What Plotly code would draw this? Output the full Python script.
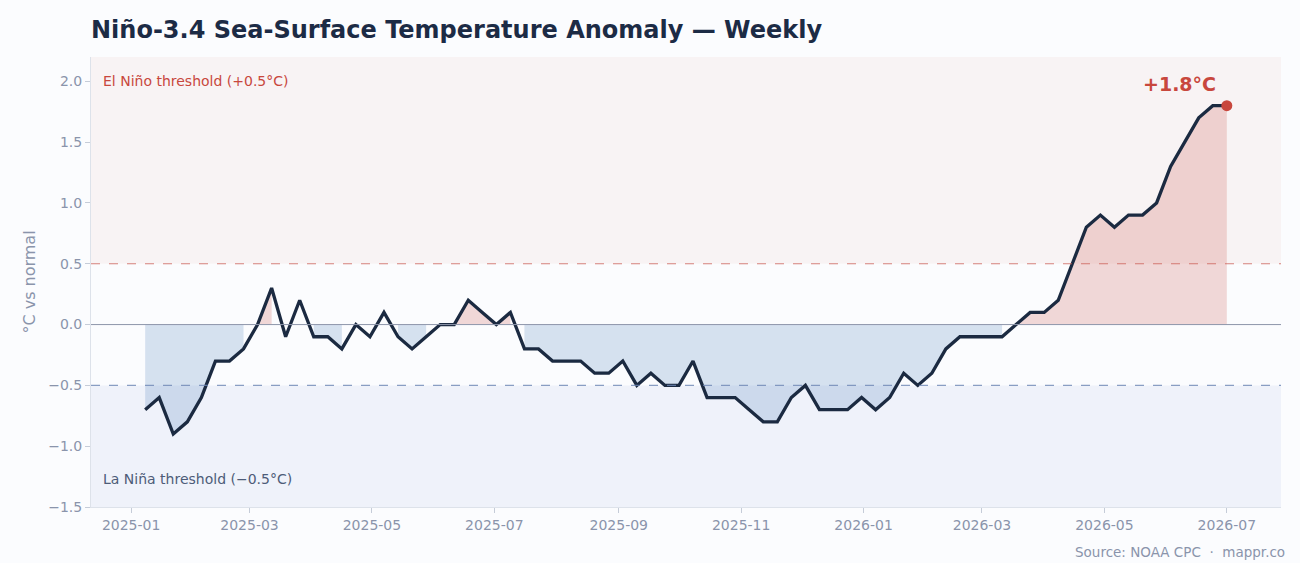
import plotly.graph_objects as go
import pandas as pd

# ---- data ----
start_date = "2025-01-08"
n_weeks = 78
anomaly = [
    -0.7, -0.6, -0.9, -0.8, -0.6, -0.3, -0.3, -0.2, 0.0, 0.3,
    -0.1, 0.2, -0.1, -0.1, -0.2, 0.0, -0.1, 0.1, -0.1, -0.2,
    -0.1, 0.0, 0.0, 0.2, 0.1, 0.0, 0.1, -0.2, -0.2, -0.3,
    -0.3, -0.3, -0.4, -0.4, -0.3, -0.5, -0.4, -0.5, -0.5, -0.3,
    -0.6, -0.6, -0.6, -0.7, -0.8, -0.8, -0.6, -0.5, -0.7, -0.7,
    -0.7, -0.6, -0.7, -0.6, -0.4, -0.5, -0.4, -0.2, -0.1, -0.1,
    -0.1, -0.1, 0.0, 0.1, 0.1, 0.2, 0.5, 0.8, 0.9, 0.8,
    0.9, 0.9, 1.0, 1.3, 1.5, 1.7, 1.8, 1.8,
]
dates = list(pd.date_range(start_date, periods=n_weeks, freq="7D"))

el_nino = 0.5
la_nina = -0.5
y_ticks = [-1.5, -1.0, -0.5, 0.0, 0.5, 1.0, 1.5, 2.0]
y_tick_text = [("\u2212" if v < 0 else "") + f"{abs(v):.1f}" for v in y_ticks]
x_range = ["2024-12-12", "2026-07-28"]
y_range = [-1.5, 2.2]

# ---- colours ----
BG = "#fbfcfe"
NAVY = "#1b2a41"
RED = "#c8473d"
GREY = "#8a94ab"

fig = go.Figure()

# ---- fill segments ----
def runs(mask):
    out, cur = [], []
    for i, m in enumerate(mask):
        if m:
            cur.append(i)
        elif cur:
            out.append(cur)
            cur = []
    if cur:
        out.append(cur)
    return out

# blue: strictly negative runs
for r in runs([v < 0 for v in anomaly]):
    if len(r) < 2:
        continue
    fig.add_trace(go.Scatter(
        x=[dates[i] for i in r], y=[anomaly[i] for i in r],
        mode="lines", line=dict(width=0), fill="tozeroy",
        fillcolor="rgba(100,145,195,0.25)", hoverinfo="skip", showlegend=False))

# red: positive runs extended to neighbouring zero points
for r in runs([v >= 0 for v in anomaly]):
    pos = [i for i in r if anomaly[i] > 0]
    if not pos:
        continue
    a = max(r[0], pos[0] - 1)
    b = min(r[-1], pos[-1] + 1)
    idx = list(range(a, b + 1))
    if len(idx) < 2:
        continue
    fig.add_trace(go.Scatter(
        x=[dates[i] for i in idx], y=[anomaly[i] for i in idx],
        mode="lines", line=dict(width=0), fill="tozeroy",
        fillcolor="rgba(200,70,60,0.20)", hoverinfo="skip", showlegend=False))

# ---- main line ----
fig.add_trace(go.Scatter(
    x=dates, y=anomaly, mode="lines",
    line=dict(color=NAVY, width=3.3), showlegend=False))

# ---- end marker ----
fig.add_trace(go.Scatter(
    x=[dates[-1]], y=[anomaly[-1]], mode="markers",
    marker=dict(color=RED, size=11), showlegend=False))

# ---- bands & reference lines ----
fig.add_shape(type="rect", xref="paper", yref="y", x0=0, x1=1, y0=el_nino, y1=y_range[1],
              fillcolor="rgba(200,70,60,0.05)", line_width=0, layer="below")
fig.add_shape(type="rect", xref="paper", yref="y", x0=0, x1=1, y0=y_range[0], y1=la_nina,
              fillcolor="rgba(100,130,200,0.08)", line_width=0, layer="below")
fig.add_shape(type="line", xref="paper", yref="y", x0=0, x1=1, y0=el_nino, y1=el_nino,
              line=dict(color="rgba(200,90,80,0.75)", width=1.2, dash="dash"), layer="above")
fig.add_shape(type="line", xref="paper", yref="y", x0=0, x1=1, y0=la_nina, y1=la_nina,
              line=dict(color="rgba(110,135,180,0.8)", width=1.2, dash="dash"), layer="above")
fig.add_shape(type="line", xref="paper", yref="y", x0=0, x1=1, y0=0, y1=0,
              line=dict(color="#8d96aa", width=1), layer="above")

# ---- annotations ----
fig.add_annotation(xref="paper", yref="y", x=0.0085, y=2.0, text="El Niño threshold (+0.5°C)",
                   showarrow=False, xanchor="left", yanchor="middle",
                   font=dict(family="DejaVu Sans", size=14, color=RED))
fig.add_annotation(xref="paper", yref="y", x=0.0085, y=-1.27, text="La Niña threshold (\u22120.5°C)",
                   showarrow=False, xanchor="left", yanchor="middle",
                   font=dict(family="DejaVu Sans", size=14, color="#4d5c78"))
fig.add_annotation(x=dates[-1], y=anomaly[-1], text=f"<b>+{anomaly[-1]:.1f}°C</b>",
                   showarrow=False, xanchor="center", yanchor="middle", xshift=-47, yshift=22,
                   font=dict(family="DejaVu Sans", size=19, color=RED))
fig.add_annotation(xref="paper", yref="paper", x=1.005, y=-0.1,
                   text="Source: NOAA CPC\u00a0\u00a0·\u00a0\u00a0mappr.co",
                   showarrow=False, xanchor="right", yanchor="middle",
                   font=dict(family="DejaVu Sans", size=13.5, color=GREY))

fig.update_layout(
    width=1300, height=563,
    margin=dict(l=91, r=19, t=57, b=56),
    paper_bgcolor=BG, plot_bgcolor=BG,
    title=dict(text="<b>Niño-3.4 Sea-Surface Temperature Anomaly — Weekly</b>",
               x=91 / 1300, xanchor="left", y=1 - 30 / 563, yanchor="middle",
               font=dict(family="DejaVu Sans", size=24, color="#1c2b45")),
    font=dict(family="DejaVu Sans", color=GREY),
    xaxis=dict(type="date", range=x_range, tick0="2025-01-01", dtick="M2", tickformat="%Y-%m",
               showgrid=False, zeroline=False, showline=True, linecolor="#dde2ea", linewidth=1,
               ticks="outside", ticklen=5, tickcolor="#c5ccd8",
               tickfont=dict(family="DejaVu Sans", size=14, color=GREY)),
    yaxis=dict(range=y_range, tickvals=y_ticks, ticktext=y_tick_text,
               showgrid=False, zeroline=False, showline=True, linecolor="#dde2ea", linewidth=1,
               ticks="outside", ticklen=5, tickcolor="#c5ccd8",
               tickfont=dict(family="DejaVu Sans", size=14, color=GREY),
               title=dict(text="°C vs normal", standoff=8,
                          font=dict(family="DejaVu Sans", size=16, color=GREY))),
)

fig.write_html("out.html")
